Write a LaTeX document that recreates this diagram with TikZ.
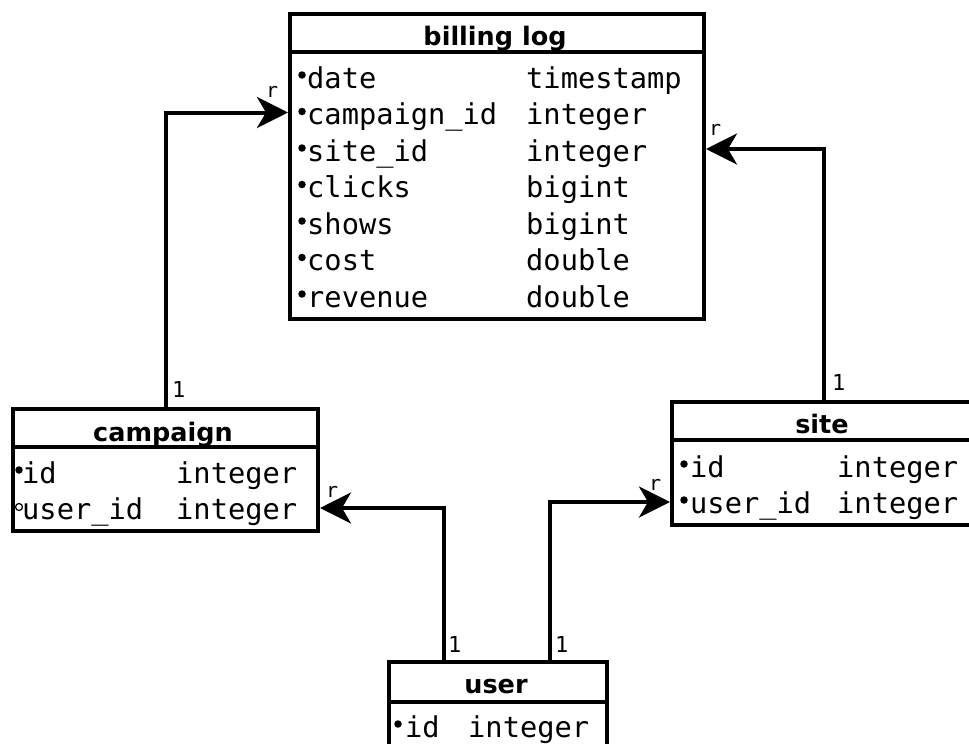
\documentclass[tikz,border=0pt]{standalone}
\usepackage{fontspec}
\setmainfont{DejaVu Sans}
\setmonofont{DejaVu Sans Mono}
\usetikzlibrary{arrows.meta}

\begin{document}
\begin{tikzpicture}[x=1pt,y=-1pt,
  tbl/.style={draw, line width=4pt, fill=white, anchor=north west, inner sep=0pt},
  sep/.style={line width=4pt},
  ttl/.style={anchor=base, inner sep=0pt, font=\fontsize{25.5}{30}\selectfont\bfseries},
  fld/.style={anchor=base west, inner sep=0pt, font=\fontsize{28.7}{34}\selectfont\ttfamily},
  lbl/.style={anchor=base west, inner sep=0pt, font=\fontsize{22}{26}\selectfont\ttfamily},
  rlbl/.style={anchor=base west, inner sep=0pt, font=\fontsize{20}{24}\selectfont\ttfamily},
  conn/.style={line width=4pt, -{Stealth[length=31pt,width=31pt,inset=9pt]}},
  pk/.style={circle, fill, inner sep=0pt, minimum size=7.5pt},
  nk/.style={circle, draw, line width=1.2pt, inner sep=0pt, minimum size=7pt}]

\useasboundingbox (0,0) rectangle (969,744);
\clip (0,0) rectangle (969,744);
\fill[white] (0,0) rectangle (969,744);

% ---------- billing log ----------
\node[tbl, minimum width=414pt, minimum height=305pt] (bl) at (288,12) {};
\draw[sep] (bl.west |- 0,52) -- (bl.east |- 0,52);
\node[ttl] (blt) at (495,45) {billing log};
\foreach \n/\t [count=\i] in {date/timestamp, campaign\_id/integer, site\_id/integer,
    clicks/bigint, shows/bigint, cost/double, revenue/double}{
  \pgfmathsetmacro\yb{88+(\i-1)*36.5}
  \node[pk] (bl-k\i) at (302,\yb-13) {};
  \node[fld] (bl-n\i) at (307,\yb) {\n};
  \node[fld] (bl-t\i) at (526,\yb) {\t};
  \coordinate (bl-r\i) at (0,\yb-12);
}

% ---------- campaign ----------
\node[tbl, minimum width=305pt, minimum height=122pt] (camp) at (11,407) {};
\draw[sep] (camp.west |- 0,447) -- (camp.east |- 0,447);
\node[ttl] (campt) at (163,441) {campaign};
\node[pk] (camp-k1) at (19,470) {};
\node[fld] (camp-n1) at (22,483) {id};
\node[fld] (camp-t1) at (176,483) {integer};
\coordinate (camp-r1) at (0,471);
\node[nk] (camp-k2) at (19,507) {};
\node[fld] (camp-n2) at (22,519) {user\_id};
\node[fld] (camp-t2) at (176,519) {integer};
\coordinate (camp-r2) at (0,508);

% ---------- site ----------
\node[tbl, minimum width=304pt, minimum height=123pt] (site) at (670,400) {};
\draw[sep] (site.west |- 0,440) -- (site.east |- 0,440);
\node[ttl] (sitet) at (822,433) {site};
\node[pk] (site-k1) at (684,464) {};
\node[fld] (site-n1) at (690,477) {id};
\node[fld] (site-t1) at (837,477) {integer};
\coordinate (site-r1) at (0,465);
\node[pk] (site-k2) at (684,500) {};
\node[fld] (site-n2) at (690,513) {user\_id};
\node[fld] (site-t2) at (837,513) {integer};
\coordinate (site-r2) at (0,502);

% ---------- user ----------
\node[tbl, minimum width=218pt, minimum height=120pt] (user) at (387,660) {};
\draw[sep] (user.west |- 0,702) -- (user.east |- 0,702);
\node[ttl] (usert) at (496,693) {user};
\node[pk] (user-k1) at (398,724) {};
\node[fld] (user-n1) at (405,737) {id};
\node[fld] (user-t1) at (468,737) {integer};

% ---------- relations ----------
\draw[conn] (camp.north) |- (bl.west |- bl-r2);
\draw[conn] (site.north) |- (bl.east |- bl-r3);
\draw[conn] ([xshift=-54pt]user.north) |- (camp.east |- camp-r2);
\draw[conn] ([xshift=52pt]user.north) |- (site.west |- site-r2);

% ---------- cardinalities ----------
\node[lbl] (c1) at (172,397) {1};
\node[lbl] (c2) at (832,390) {1};
\node[lbl] (c3) at (448,652) {1};
\node[lbl] (c4) at (555,652) {1};
\node[rlbl] (m1) at (266,97) {r};
\node[rlbl] (m2) at (709,135) {r};
\node[rlbl] (m3) at (326,497) {r};
\node[rlbl] (m4) at (649,490) {r};
\end{tikzpicture}
\end{document}
